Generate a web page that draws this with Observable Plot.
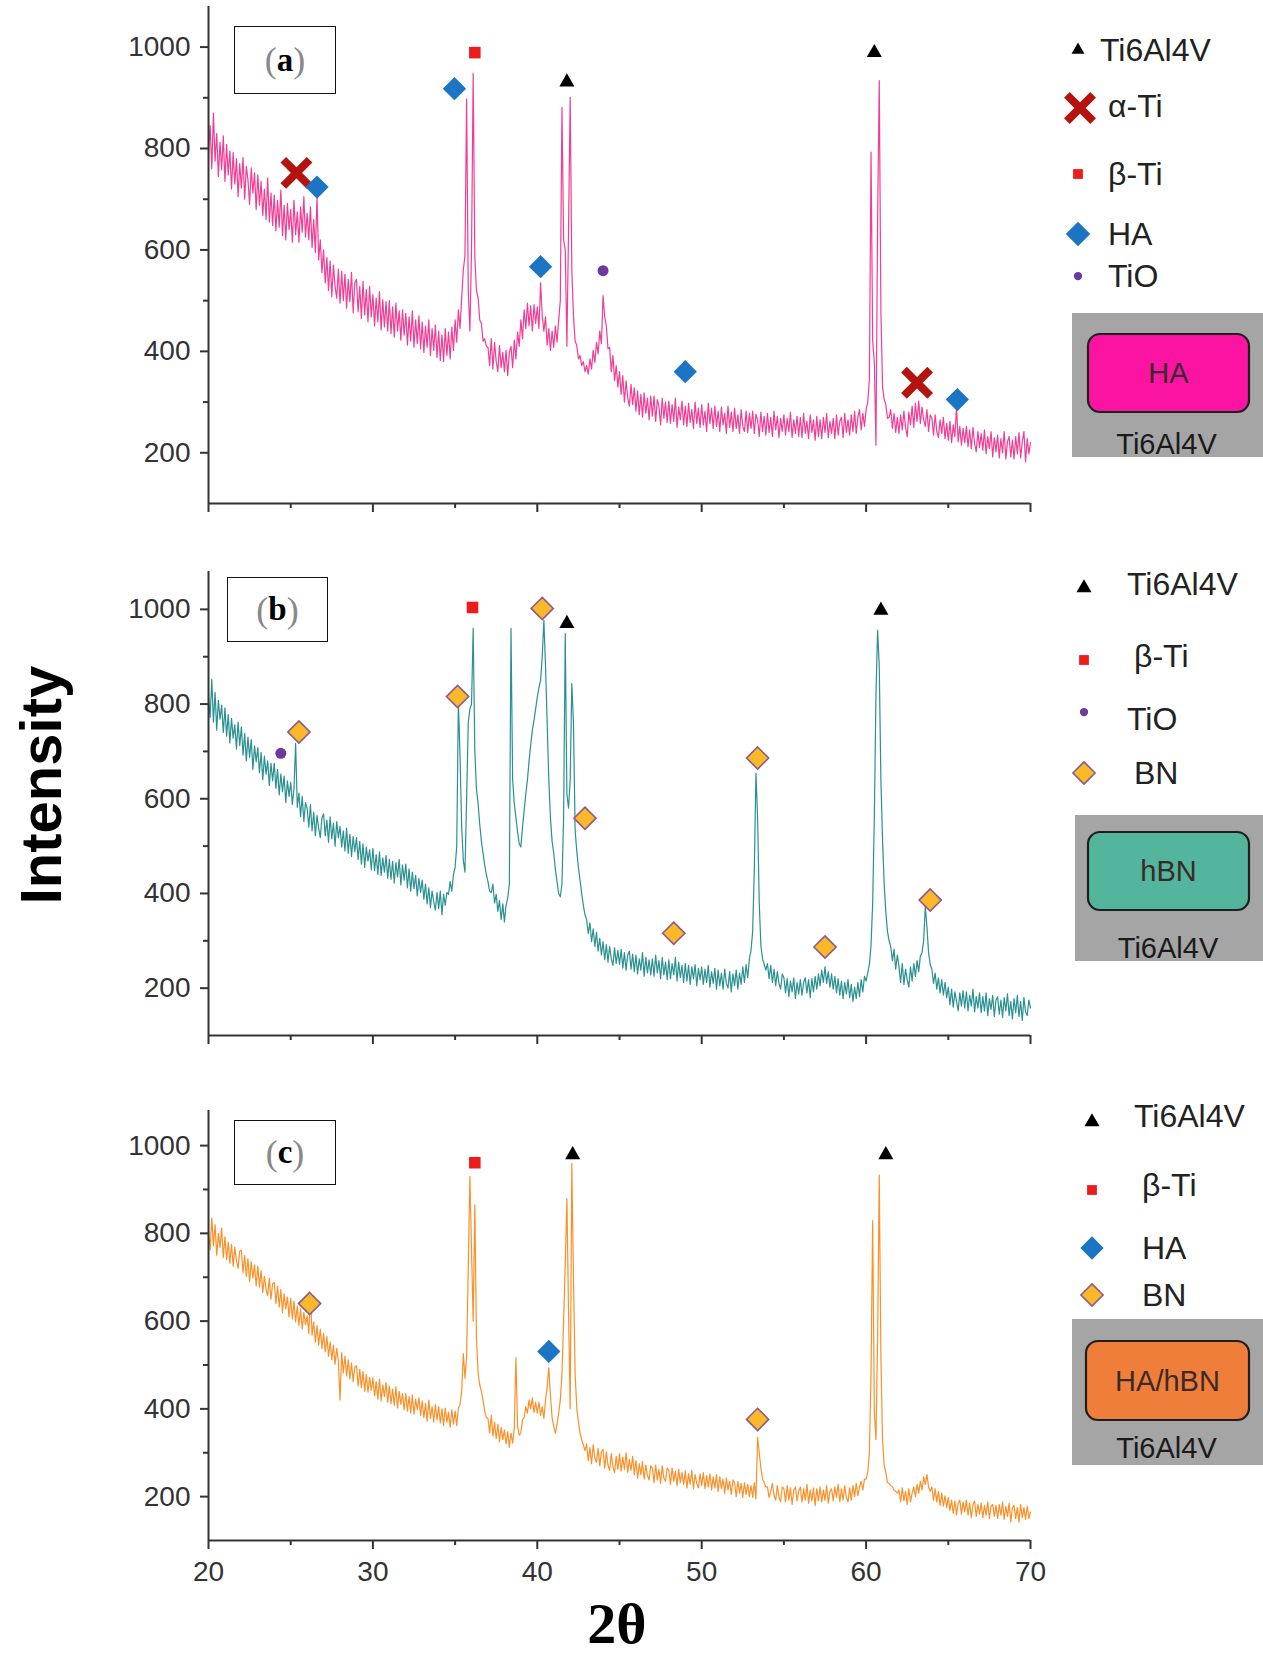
<!DOCTYPE html>
<html><head><meta charset="utf-8">
<script src="https://cdn.jsdelivr.net/npm/d3@7"></script>
<script src="https://cdn.jsdelivr.net/npm/@observablehq/plot@0.6"></script>
<style>
body{margin:0;background:#fff;}
#page{position:relative;width:1263px;height:1656px;overflow:hidden;background:#fff;font-family:"Liberation Sans",Arial,sans-serif;}
.lbl{position:absolute;box-sizing:border-box;border:1.5px solid #111;background:#fff;display:flex;align-items:center;justify-content:center;font-family:"Liberation Serif","Times New Roman",serif;}
.lbl .p{font-size:36px;color:#888;font-weight:normal;}
.lbl b{font-size:33px;color:#000;}
</style></head><body><div id="page"></div>
<script>
// ---------- data ----------
const twoThetaStart = 20, twoThetaStep = 0.1;
const twoThetaDomain = [20, 70];
const intensityDomain = [100, 1080];
const xMajorTicks = [20, 30, 40, 50, 60, 70];
const xMinorTicks = [25, 35, 45, 55, 65];
const yMajorTicks = [200, 400, 600, 800, 1000];
const yMinorTicks = [300, 500, 700, 900];

// (a) HA coating, 2θ = 20.0 ... 70.0 step 0.1
const intensityHA = [
790,845,760,870,775,830,745,812,758,825,
735,808,748,795,720,792,730,780,705,770,
722,782,700,765,738,690,762,712,752,680,
748,688,735,668,720,660,742,655,712,648,
708,638,698,645,718,628,688,620,692,640,
680,615,698,630,675,615,685,635,705,625,
672,620,685,605,660,595,705,580,620,555,
600,535,585,520,578,508,570,528,505,562,
495,558,500,552,485,542,498,556,476,535,
542,478,528,465,538,472,522,458,528,468,
512,450,505,458,518,442,502,448,498,440,
500,435,488,428,495,440,480,422,482,432,
475,412,468,420,480,408,462,415,470,405,
458,398,450,408,462,392,445,402,452,388,
440,382,432,380,445,392,438,385,448,402,
462,418,482,445,505,560,590,898,520,440,
600,948,585,520,505,462,455,420,425,410,
408,372,425,365,418,380,360,412,368,398,
360,402,352,398,410,368,422,385,438,410,
462,425,482,445,495,450,490,440,492,455,
488,445,535,470,440,468,412,445,402,440,
408,450,418,462,500,881,620,600,410,640,
901,560,470,420,412,385,392,372,380,360,
372,355,385,365,402,378,418,395,440,415,
510,468,450,405,408,360,392,342,372,330,
360,315,352,300,342,308,292,335,295,328,
282,322,275,315,270,318,278,308,265,312,
272,312,262,305,292,255,308,268,300,260,
302,258,295,262,308,250,290,265,302,255,
292,252,298,260,285,248,300,258,288,250,
295,255,282,242,298,258,288,248,292,252,
282,242,290,255,278,238,292,250,280,242,
288,248,275,238,285,252,242,282,240,278,
248,282,238,276,265,232,280,242,272,235,
278,240,270,232,282,245,272,230,268,242,
275,235,268,242,280,230,265,238,272,232,
270,230,278,238,262,228,275,240,265,225,
272,232,265,228,270,240,278,230,262,238,
268,228,275,235,262,270,230,278,240,265,
235,275,242,282,238,270,285,245,278,252,
285,300,345,793,420,380,215,660,934,480,
330,305,295,268,270,285,248,278,240,270,
238,275,245,282,250,232,280,255,292,250,
298,262,302,258,290,265,252,285,242,275,
268,235,275,242,230,265,238,270,228,258,
225,262,220,255,232,290,222,252,215,248,
220,252,212,245,208,250,218,202,242,210,
238,205,245,198,232,208,242,192,230,202,
235,190,228,200,242,188,222,232,192,225,
188,232,198,240,190,222,242,182,228,198,
220];

// (b) hBN coating
const intensityHBN = [
815,772,852,762,825,745,808,768,798,740,
792,732,778,718,770,728,756,705,762,712,
752,692,738,680,730,688,725,662,712,678,
708,655,698,640,690,652,680,628,675,638,
675,622,662,608,652,615,648,592,638,605,
635,588,622,717,582,612,562,605,552,592,
580,540,588,532,572,522,565,538,518,560,
568,522,555,508,562,515,548,500,552,518,
542,498,532,490,538,485,525,478,520,488,
518,472,510,462,505,455,498,468,492,450,
495,448,482,440,488,438,475,445,480,432,
472,430,468,422,465,435,472,418,460,428,
462,412,452,405,445,410,438,395,432,402,
428,388,420,378,412,370,405,382,365,402,
368,405,355,398,375,402,398,425,405,440,
455,500,805,690,540,470,445,600,760,790,
800,960,700,620,590,545,510,485,460,440,
425,405,402,420,380,398,362,385,345,378,
340,375,390,420,960,640,590,560,530,505,
498,540,575,610,640,680,715,745,766,790,
815,835,850,900,977,880,760,640,560,510,
485,450,425,400,393,420,560,949,610,580,
640,843,760,534,490,455,428,400,375,355,
345,315,338,298,325,288,318,278,305,270,
298,260,292,255,288,262,248,285,252,280,
250,282,242,275,238,270,278,240,272,235,
270,230,262,238,275,225,265,232,260,228,
262,225,270,232,258,220,265,228,255,218,
260,220,252,228,265,215,255,222,248,212,
252,215,248,208,245,220,250,205,242,218,
245,208,240,212,248,202,235,210,242,198,
238,205,232,198,240,210,200,235,192,230,
205,238,198,232,208,245,212,250,222,262,
280,320,450,654,560,380,290,262,250,238,
252,220,248,212,240,205,235,210,198,230,
222,190,220,182,215,192,222,178,212,188,
218,185,212,222,190,218,180,220,192,225,
198,230,205,238,212,245,210,235,202,230,
198,225,190,220,185,215,178,212,188,218,
180,208,172,202,178,212,182,218,192,225,
215,232,250,290,380,560,820,956,880,640,
513,420,360,320,300,287,258,282,240,270,
245,212,252,208,240,218,202,245,215,252,
225,258,235,268,275,300,372,330,275,250,
240,210,232,198,222,190,218,185,212,180,
202,165,198,160,192,172,152,190,162,195,
158,192,152,185,162,198,150,182,158,190,
148,182,152,190,142,178,155,185,140,175,
182,145,175,138,180,152,188,142,172,135,
178,148,185,140,172,132,180,150,142,175,
158];

// (c) HA/hBN coating
const intensityHAhBN = [
805,762,835,772,820,750,800,768,812,745,
792,740,780,732,775,725,768,738,720,760,
762,710,750,702,742,690,735,698,728,680,
725,678,715,665,702,672,658,698,650,685,
688,640,680,632,672,620,662,628,655,610,
652,605,645,598,635,590,628,582,620,592,
612,572,660,568,598,552,590,545,582,538,
572,530,565,520,552,512,545,502,538,508,
420,528,482,520,475,512,468,505,462,495,
498,452,490,448,485,440,478,438,472,442,
470,430,462,422,468,418,455,428,460,415,
452,412,445,408,450,402,440,410,435,398,
435,395,428,390,432,388,422,398,425,385,
418,380,412,372,420,378,405,370,410,375,
405,368,400,362,402,370,392,358,398,365,
395,362,402,410,440,526,470,520,720,930,
760,600,865,560,480,455,440,420,395,380,
378,345,385,338,370,332,365,325,358,330,
352,320,348,312,345,322,355,517,360,340,
345,375,380,405,390,420,400,425,392,415,
390,415,385,405,378,420,450,494,430,380,
360,344,365,390,420,480,600,730,879,620,
400,959,700,480,403,370,345,330,318,305,
320,282,312,275,318,288,278,310,270,302,
308,265,302,272,260,298,268,255,292,262,
298,258,290,262,300,255,285,260,292,250,
282,242,275,250,280,240,272,248,238,270,
265,232,272,238,262,230,270,242,235,265,
260,228,265,235,258,225,262,232,255,228,
258,220,252,228,260,218,250,230,220,252,
225,255,218,248,222,252,215,245,220,250,
212,245,218,240,208,242,215,235,205,238,
232,200,235,208,230,198,232,205,228,200,
225,198,232,195,335,300,265,240,232,222,
222,198,212,230,202,192,225,200,188,222,
218,188,225,192,220,182,215,222,190,212,
222,188,218,192,228,185,215,190,220,180,
218,190,222,188,215,192,225,185,212,218,
190,222,198,228,188,218,192,225,198,188,
220,192,225,200,230,202,222,235,215,240,
240,255,300,480,829,394,330,560,933,520,
330,271,255,232,230,225,222,215,212,208,
215,188,220,190,212,182,218,188,208,222,
200,228,208,235,215,245,228,250,222,212,
222,192,218,188,212,180,208,178,202,175,
198,168,192,162,190,158,185,192,160,188,
165,192,158,185,152,182,190,155,182,160,
185,152,180,158,188,150,178,182,155,180,
150,182,158,188,148,178,155,185,142,175,
180,150,175,142,182,152,175,148,178,150,
165];

// identified phases (marker position: 2θ, intensity)
const peaksA_phase = ["α-Ti","HA","HA","β-Ti","HA","Ti6Al4V","TiO","HA","Ti6Al4V","α-Ti","HA"];
const peaksA_theta = [25.35, 26.6, 34.96, 36.2, 40.2, 41.8, 44.0, 49.0, 60.5, 63.1, 65.55];
const peaksA_intensity = [752, 724, 918, 989, 567, 931, 559, 360, 989, 338, 305];

const peaksB_phase = ["TiO","BN","BN","β-Ti","BN","Ti6Al4V","BN","BN","BN","BN","Ti6Al4V","BN"];
const peaksB_theta = [24.4, 25.5, 35.15, 36.06, 40.3, 41.8, 42.9, 48.3, 53.4, 57.5, 60.9, 63.9];
const peaksB_intensity = [696, 741, 816, 1004, 1002, 970, 559, 316, 686, 287, 998, 386];

const peaksC_phase = ["BN","β-Ti","HA","Ti6Al4V","BN","Ti6Al4V"];
const peaksC_theta = [26.15, 36.2, 40.7, 42.15, 53.4, 61.2];
const peaksC_intensity = [640, 961, 531, 979, 376, 979];

const legendA = ["Ti6Al4V","α-Ti","β-Ti","HA","TiO"];
const legendB = ["Ti6Al4V","β-Ti","TiO","BN"];
const legendC = ["Ti6Al4V","β-Ti","HA","BN"];
const panelLabels = ["a","b","c"];
const coatingNames = ["HA","hBN","HA/hBN"];
const substrateName = "Ti6Al4V";

// ---------- styles ----------
const W = 1263;
const axisColor = "#333";
const phaseStyle = {
  "Ti6Al4V": {symbol: "triangle", fill: "#000", stroke: "none", sw: 0, r: 5.6},
  "α-Ti":    {symbol: "times", fill: "none", stroke: "#b3140f", sw: 8, r: 12},
  "β-Ti":    {symbol: "square", fill: "#ee1b1b", stroke: "none", sw: 0, r: 6.5},
  "HA":      {symbol: "diamond2", fill: "#1c74c4", stroke: "none", sw: 0, r: 10.5},
  "TiO":     {symbol: "circle", fill: "#6a3a9c", stroke: "none", sw: 0, r: 5.5},
  "BN":      {symbol: "diamond2", fill: "#fbb829", stroke: "#8d5b8b", sw: 1.6, r: 10}
};
const d3Sym = {triangle: d3.symbolTriangle, times: d3.symbolTimes, square: d3.symbolSquare, diamond2: d3.symbolDiamond2, circle: d3.symbolCircle};

const page = document.getElementById("page");

function makePanel(cfg) {
  const data = cfg.values.map((v, i) => ({theta: +(twoThetaStart + i * twoThetaStep).toFixed(2), intensity: v}));
  const peaks = cfg.phases.map((p, i) => ({phase: p, theta: cfg.thetas[i], intensity: cfg.intens[i]}));
  const marks = [
    Plot.line(data, {x: "theta", y: "intensity", stroke: cfg.color, strokeWidth: 1.2, strokeOpacity: 0.95}),
    Plot.ruleX([twoThetaDomain[0]], {y1: intensityDomain[0], y2: intensityDomain[1], stroke: axisColor, strokeWidth: 2}),
    Plot.ruleY([intensityDomain[0]], {x1: twoThetaDomain[0], x2: twoThetaDomain[1], stroke: axisColor, strokeWidth: 2}),
    Plot.axisY(yMajorTicks, {tickSize: 8, tickPadding: 10, fontSize: 28, color: axisColor, strokeWidth: 2, label: null,
      tickFormat: d => String(d)}),
    Plot.axisY(yMinorTicks, {tickSize: 5, tickFormat: () => "", color: axisColor, strokeWidth: 2, label: null}),
    Plot.axisX(xMajorTicks, {tickSize: 9, tickPadding: 12, fontSize: 28, color: axisColor, strokeWidth: 2, label: null,
      tickFormat: cfg.showX ? (d => String(d)) : (() => "")}),
    Plot.axisX(xMinorTicks, {tickSize: 5, tickFormat: () => "", color: axisColor, strokeWidth: 2, label: null})
  ];
  for (const [phase, st] of Object.entries(phaseStyle)) {
    const rows = peaks.filter(d => d.phase === phase);
    if (!rows.length) continue;
    marks.push(Plot.dot(rows, {x: "theta", y: "intensity", symbol: st.symbol, r: st.r,
      fill: st.fill, stroke: st.stroke, strokeWidth: st.sw}));
  }
  const svg = Plot.plot({
    width: W, height: cfg.height,
    marginLeft: 208, marginRight: 233, marginTop: cfg.mt, marginBottom: cfg.mb,
    x: {domain: twoThetaDomain, label: null},
    y: {domain: intensityDomain, label: null},
    style: {fontFamily: "'Liberation Sans', Arial, sans-serif", background: "transparent", overflow: "visible"},
    marks
  });
  svg.style.position = "absolute";
  svg.style.left = "0px";
  svg.style.top = cfg.top + "px";
  page.appendChild(svg);
}

makePanel({values: intensityHA, color: "#f2328e", phases: peaksA_phase, thetas: peaksA_theta, intens: peaksA_intensity,
  top: 0, height: 520, mt: 6, mb: 17, showX: false});
makePanel({values: intensityHBN, color: "#1f8a8a", phases: peaksB_phase, thetas: peaksB_theta, intens: peaksB_intensity,
  top: 560, height: 490, mt: 11, mb: 15, showX: false});
makePanel({values: intensityHAhBN, color: "#fb8a1c", phases: peaksC_phase, thetas: peaksC_theta, intens: peaksC_intensity,
  top: 1100, height: 500, mt: 10, mb: 60, showX: true});

// ---------- panel labels ----------
const lblBoxes = [{l: 234, t: 26, w: 102, h: 68}, {l: 227, t: 577, w: 101, h: 65}, {l: 234, t: 1120, w: 102, h: 65}];
lblBoxes.forEach((b, i) => {
  const d = document.createElement("div");
  d.className = "lbl";
  Object.assign(d.style, {left: b.l + "px", top: b.t + "px", width: b.w + "px", height: b.h + "px"});
  d.innerHTML = `<span class="p">(</span><b>${panelLabels[i]}</b><span class="p">)</span>`;
  page.appendChild(d);
});

// ---------- overlay: legends, schematics, axis titles ----------
const ov = d3.select(page).append("svg").attr("width", W).attr("height", 1656)
  .style("position", "absolute").style("left", "0px").style("top", "0px")
  .style("font-family", "'Liberation Sans', Arial, sans-serif");

function symbolPath(phase, rScale, g, cx, cy) {
  const st = phaseStyle[phase];
  const r = st.r * rScale;
  g.append("path")
    .attr("d", d3.symbol(d3Sym[st.symbol], Math.PI * r * r)())
    .attr("transform", `translate(${cx},${cy})`)
    .attr("fill", st.fill).attr("stroke", st.stroke).attr("stroke-width", st.sw);
}

function legend(items, entries) {
  const g = ov.append("g");
  items.forEach((name, i) => {
    const e = entries[i];
    symbolPath(name, e.s, g, e.sx, e.sy);
    g.append("text").attr("x", e.tx).attr("y", e.ty).attr("dy", "0.35em")
      .attr("font-size", 32).attr("fill", "#222").text(name);
  });
}
legend(legendA, [
  {sx: 1078, sy: 50, s: 0.85, tx: 1100, ty: 50},
  {sx: 1080, sy: 108, s: 1.0, tx: 1108, ty: 106},
  {sx: 1078, sy: 174, s: 0.85, tx: 1108, ty: 174},
  {sx: 1078, sy: 234, s: 1.05, tx: 1108, ty: 234},
  {sx: 1078, sy: 276, s: 0.75, tx: 1108, ty: 276}
]);
legend(legendB, [
  {sx: 1084, sy: 588, s: 1.0, tx: 1127, ty: 584},
  {sx: 1084, sy: 660, s: 0.85, tx: 1134, ty: 656},
  {sx: 1084, sy: 712, s: 0.75, tx: 1127, ty: 719},
  {sx: 1084, sy: 773, s: 1.0, tx: 1134, ty: 773}
]);
legend(legendC, [
  {sx: 1092, sy: 1122, s: 1.0, tx: 1134, ty: 1116},
  {sx: 1092, sy: 1190, s: 0.85, tx: 1142, ty: 1185},
  {sx: 1092, sy: 1248, s: 1.0, tx: 1142, ty: 1248},
  {sx: 1092, sy: 1295, s: 1.0, tx: 1142, ty: 1295}
]);

// schematic boxes
const schem = [
  {gx: 1072, gy: 313, gw: 191, gh: 144, ix: 1088, iy: 334, iw: 161, ih: 78, fill: "#fb14a2", sub: 444},
  {gx: 1075, gy: 815, gw: 188, gh: 146, ix: 1088, iy: 832, iw: 161, ih: 78, fill: "#52b59c", sub: 948},
  {gx: 1072, gy: 1319, gw: 191, gh: 146, ix: 1086, iy: 1341, iw: 163, ih: 79, fill: "#ef7e3a", sub: 1448}
];
schem.forEach((s, i) => {
  ov.append("rect").attr("x", s.gx).attr("y", s.gy).attr("width", s.gw).attr("height", s.gh).attr("fill", "#a5a5a5");
  ov.append("rect").attr("x", s.ix).attr("y", s.iy).attr("width", s.iw).attr("height", s.ih)
    .attr("rx", 12).attr("fill", s.fill).attr("stroke", "#1e1e1e").attr("stroke-width", 2.2);
  ov.append("text").attr("x", s.ix + s.iw / 2).attr("y", s.iy + s.ih / 2).attr("dy", "0.35em")
    .attr("text-anchor", "middle").attr("font-size", 29).attr("fill", "#3a2a2a").text(coatingNames[i]);
  ov.append("text").attr("x", s.gx + s.gw / 2 - 1).attr("y", s.sub).attr("dy", "0.35em")
    .attr("text-anchor", "middle").attr("font-size", 29).attr("fill", "#1a1a1a").text(substrateName);
});

// axis titles
ov.append("text").attr("transform", "translate(41,785) rotate(-90)").attr("text-anchor", "middle").attr("dy", "0.35em")
  .attr("font-size", 58).attr("font-weight", "bold").attr("fill", "#000").text("Intensity");
ov.append("text").attr("x", 617).attr("y", 1643).attr("text-anchor", "middle")
  .attr("font-family", "'Liberation Serif', 'Times New Roman', serif")
  .attr("font-size", 58).attr("font-weight", "bold").attr("fill", "#000").text("2θ");
</script>
</body></html>
